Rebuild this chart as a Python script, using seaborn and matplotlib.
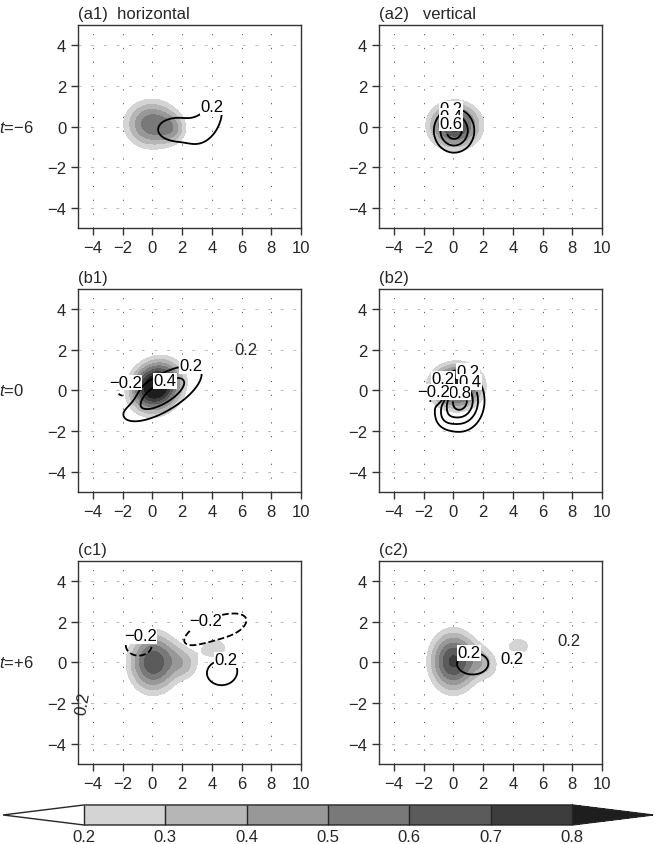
import numpy as np
import seaborn as sns
import matplotlib
matplotlib.use("Agg")
import matplotlib.pyplot as plt
from matplotlib.colors import ListedColormap, BoundaryNorm
from matplotlib.colorbar import ColorbarBase

# blob = (x0, y0, amplitude, sigma_along, sigma_across, angle_deg)
# shaded field (gray) and line field (contours) for each panel
fill_a1 = [(-0.05, 0.12, 0.57, 1.3, 0.85, 0), (1.4, -0.15, 0.2, 0.65, 0.5, 0)]
line_a1 = [(1.7, -0.15, 0.28, 1.6, 0.7, 0), (4.0, 0.4, 0.24, 1.1, 0.55, 45)]
lab_a1 = [(4.0, 1.0)]

fill_a2 = [(0.1, 0.05, 0.75, 1.2, 0.78, 0)]
line_a2 = [(0.05, -0.2, 0.72, 0.85, 0.68, 0)]
lab_a2 = [(-0.2, 1.0), (-0.2, 0.6), (-0.2, 0.2)]

fill_b1 = [(0.25, 0.2, 1.0, 1.18, 0.84, 12)]
line_b1 = [(0.65, -0.15, 0.55, 2.0, 0.65, 22), (-1.9, 0.0, -0.36, 0.5, 0.42, 0)]
lab_b1 = [(2.6, 1.2), (0.9, 0.4), (-1.7, 0.6)]

fill_b2 = [(0.2, 0.2, 0.9, 1.16, 0.73, 0)]
line_b2 = [(0.45, -0.5, 0.9, 0.95, 0.88, 0), (-0.6, -1.35, 0.15, 0.5, 0.4, 0),
           (-1.3, -0.3, -0.65, 0.42, 0.2, 0)]
lab_b2 = [(-0.9, 0.7), (1.0, 1.0), (1.2, 0.5), (0.4, 0.1), (-1.3, 0.1)]

fill_c1 = [(0.05, 0.0, 0.68, 1.16, 1.05, 0), (2.25, -0.05, 0.25, 0.8, 0.6, -20),
           (4.2, 0.7, 0.28, 0.8, 0.45, 0)]
line_c1 = [(-1.0, 0.85, -0.36, 0.7, 0.42, 0), (4.2, 1.55, -0.3, 2.45, 0.75, 15),
           (4.65, -0.4, 0.3, 1.2, 0.8, 0)]
lab_c1 = [(-0.8, 1.4), (3.5, 2.2), (5.0, 0.4)]

fill_c2 = [(0.0, 0.05, 0.72, 1.12, 1.05, 0), (2.2, -0.05, 0.25, 0.8, 0.6, -20),
           (4.4, 0.8, 0.28, 0.7, 0.4, 0)]
line_c2 = [(1.3, -0.05, 0.3, 1.17, 0.6, 0), (4.0, 0.05, 0.25, 0.25, 0.2, 0)]
lab_c2 = [(1.0, 0.6), (3.8, 0.45)]

# stray labels (tiny contours) : text, x, y, rotation
extra_b1 = [("0.2", 6.3, 2.0, 0)]
extra_c1 = [("0.2", -4.7, -2.0, 80)]
extra_c2 = [("0.2", 7.8, 1.1, 0)]

shade_levels = [0.2, 0.3, 0.4, 0.5, 0.6, 0.7, 0.8]
line_levels = [-0.8, -0.6, -0.4, -0.2, 0.2, 0.4, 0.6, 0.8]
xticks = [-4, -2, 0, 2, 4, 6, 8, 10]
yticks = [-4, -2, 0, 2, 4]

panels = [
    ("(a1)  horizontal", fill_a1, line_a1, lab_a1, []),
    ("(a2)   vertical", fill_a2, line_a2, lab_a2, []),
    ("(b1)", fill_b1, line_b1, lab_b1, extra_b1),
    ("(b2)", fill_b2, line_b2, lab_b2, []),
    ("(c1)", fill_c1, line_c1, lab_c1, extra_c1),
    ("(c2)", fill_c2, line_c2, lab_c2, extra_c2),
]
row_labels = ["$t$=\u22126", "$t$=0", "$t$=+6"]

sns.set_style("ticks")
plt.rcParams['font.family'] = ['Liberation Sans', 'DejaVu Sans']
plt.rcParams['mathtext.fontset'] = 'custom'
plt.rcParams['mathtext.it'] = 'Liberation Sans:italic'
plt.rcParams['mathtext.rm'] = 'Liberation Sans'

grays = sns.blend_palette(['#d4d4d4', '#3d3d3d'], 6)
cmap = ListedColormap(grays)
cmap.set_under('white')
cmap.set_over('#1e1e1e')
norm = BoundaryNorm(shade_levels, cmap.N)

xg = np.linspace(-5, 10, 301)
yg = np.linspace(-5, 5, 201)
X, Y = np.meshgrid(xg, yg)


def field(blobs):
    z = np.zeros_like(X)
    for x0, y0, a, s1, s2, ang in blobs:
        t = np.deg2rad(ang)
        u = (X - x0) * np.cos(t) + (Y - y0) * np.sin(t)
        v = -(X - x0) * np.sin(t) + (Y - y0) * np.cos(t)
        z += a * np.exp(-0.5 * (u**2 / s1**2 + v**2 / s2**2))
    return z


fig = plt.figure(figsize=(6.54, 8.45), dpi=100)
lefts = [0.1193, 0.5795]
bottoms = [0.729, 0.4166, 0.0947]

for i, (title, fb, lb, labs, extra) in enumerate(panels):
    r, c = divmod(i, 2)
    ax = fig.add_axes([lefts[c], bottoms[r], 0.341, 0.2402])
    ax.contourf(X, Y, field(fb), levels=shade_levels, cmap=cmap, norm=norm, extend='max')
    cs = ax.contour(X, Y, field(lb), levels=line_levels, colors='k', linewidths=1.3,
                    negative_linestyles='dashed')
    if labs:
        txt = ax.clabel(cs, fmt=lambda v: f"{v:.1f}".replace('-', '\u2212'),
                        fontsize=12, inline=True, inline_spacing=1, manual=labs)
        for t in txt:
            t.set_rotation(0)
            t.set_bbox(dict(facecolor='white', edgecolor='none', pad=0.2))
    for s, x, y, rot in extra:
        ax.text(x, y, s, fontsize=12, rotation=rot, ha='center', va='center')
    ax.set_xlim(-5, 10)
    ax.set_ylim(-5, 5)
    ax.set_xticks(xticks)
    ax.set_yticks(yticks)
    for xv in xticks:
        ax.axvline(xv, color='#555555', lw=0.7, ls=(0, (1.2, 13)), zorder=0)
    for yv in yticks:
        ax.axhline(yv, color='#bbbbbb', lw=0.7, ls=(0, (3, 10)), zorder=0)
    ax.tick_params(direction='out', length=5, width=1, labelsize=12, color='#333333')
    for sp in ax.spines.values():
        sp.set_color('#333333')
        sp.set_linewidth(1.0)
    ax.text(0, 1.02, title, transform=ax.transAxes, fontsize=12, ha='left', va='bottom')
    if c == 0:
        fig.text(-0.002, bottoms[r] + 0.2402 / 2, row_labels[r], fontsize=12,
                 ha='left', va='center')

cax = fig.add_axes([0.0046, 0.0225, 0.9939, 0.0237])
cb = ColorbarBase(cax, cmap=cmap, norm=norm, orientation='horizontal',
                  extend='both', extendfrac=0.166, ticks=shade_levels, drawedges=True)
cb.outline.set_linewidth(1.0)
cb.dividers.set_linewidth(1.0)
cax.tick_params(length=0, labelsize=12, pad=3)

fig.savefig("out.png", dpi=100)
